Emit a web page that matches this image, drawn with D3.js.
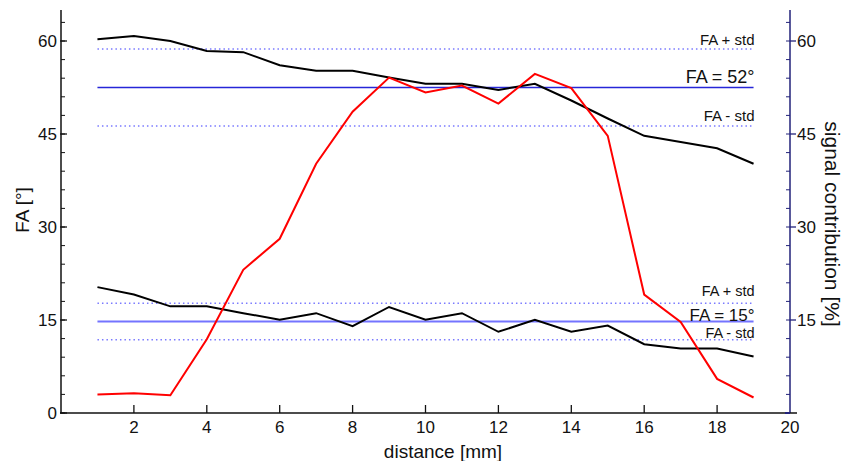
<!DOCTYPE html>
<html><head><meta charset="utf-8">
<script src="https://cdn.jsdelivr.net/npm/d3@7"></script>
<style>body{margin:0;background:#fff}svg{display:block;font-family:"Liberation Sans",Arial,sans-serif}</style>
</head><body><svg id="c" width="844" height="461"></svg>
<script>
const distance = [1,2,3,4,5,6,7,8,9,10,11,12,13,14,15,16,17,18,19];
const faHigh = [60.3,60.8,60.0,58.4,58.2,56.1,55.2,55.2,54.1,53.1,53.1,52.1,53.1,50.4,47.5,44.7,43.7,42.7,40.2];
const faLow = [20.3,19.1,17.2,17.2,16.1,15.05,16.1,14.0,17.1,15.05,16.1,13.1,15.05,13.1,14.1,11.1,10.4,10.4,9.1];
const signal = [3.0,3.2,2.85,11.9,23.1,28.1,40.2,48.6,54.1,51.7,52.8,49.9,54.7,52.4,44.7,19.1,14.7,5.5,2.5];
const faHighMean = 52.5, faHighStd = 6.2;
const faLowMean = 14.75, faLowStd = 2.95;
const faHighLabel = "FA = 52°", faLowLabel = "FA = 15°";
const xTicks = [2,4,6,8,10,12,14,16,18,20];
const yTicks = [0,15,30,45,60];
const yRightTicks = [15,30,45,60];

const svg = d3.select("#c");
const x = d3.scaleLinear().domain([0,20]).range([61,790]);
const y = d3.scaleLinear().domain([0,65]).range([413,10]);
const yR = d3.scaleLinear().domain([0,65]).range([413,10]);
const minor = d3.range(0,66,3);

// reference lines
function refBlock(mean, std, solidColor, solidWidth){
  const x0 = x(1), x1 = x(19);
  [mean+std, mean-std].forEach(v=>{
    svg.append("line").attr("x1",x0).attr("x2",x1).attr("y1",y(v)).attr("y2",y(v))
      .attr("stroke","#7a7aff").attr("stroke-width",1.5).attr("stroke-dasharray","1.5,3");
  });
  svg.append("line").attr("x1",x0).attr("x2",x1).attr("y1",y(mean)).attr("y2",y(mean))
    .attr("stroke",solidColor).attr("stroke-width",solidWidth);
}
refBlock(faHighMean, faHighStd, "#2626d8", 1.3);
refBlock(faLowMean, faLowStd, "#7474ff", 2);

// lines
const line = d3.line().x((d,i)=>x(distance[i])).y(d=>y(d));
const lineR = d3.line().x((d,i)=>x(distance[i])).y(d=>yR(d));
svg.append("path").attr("d",line(faHigh)).attr("fill","none").attr("stroke","#000").attr("stroke-width",2);
svg.append("path").attr("d",line(faLow)).attr("fill","none").attr("stroke","#000").attr("stroke-width",2);
svg.append("path").attr("d",lineR(signal)).attr("fill","none").attr("stroke","#ff0000").attr("stroke-width",2);

// annotations
const tx = x(19)+1;
function ann(txt, yy, size){ svg.append("text").attr("x",tx).attr("y",yy).attr("text-anchor","end").attr("font-size",size).attr("fill","#111").text(txt); }
ann("FA + std", y(faHighMean+faHighStd)-4, 15);
ann(faHighLabel, y(faHighMean)-5, 18);
ann("FA - std", y(faHighMean-faHighStd)-5, 15);
ann("FA + std", y(faLowMean+faLowStd)-7, 14.5);
ann(faLowLabel, y(faLowMean)-1, 17);
ann("FA - std", y(faLowMean-faLowStd)-2, 14.5);

// left axis
const gL = svg.append("g").attr("transform","translate(61,0)");
gL.append("line").attr("y1",10).attr("y2",413).attr("stroke","#111").attr("stroke-width",1.5);
gL.selectAll(".mn").data(minor).join("line").attr("x1",0).attr("x2",4).attr("y1",d=>y(d)).attr("y2",d=>y(d)).attr("stroke","#111");
gL.selectAll(".mj").data(yTicks).join("line").attr("x1",-1).attr("x2",6).attr("y1",d=>y(d)).attr("y2",d=>y(d)).attr("stroke","#111").attr("stroke-width",1.3);
gL.selectAll(".lb").data(yTicks).join("text").attr("x",-4).attr("y",d=>y(d)+6).attr("text-anchor","end").attr("font-size",17).attr("fill","#111").text(d=>d);

// right axis
const gR = svg.append("g").attr("transform","translate(790,0)");
gR.append("line").attr("y1",10).attr("y2",413).attr("stroke","#22227a").attr("stroke-width",1.5);
gR.selectAll(".mn").data(minor).join("line").attr("x1",-4).attr("x2",0).attr("y1",d=>yR(d)).attr("y2",d=>yR(d)).attr("stroke","#22227a");
gR.selectAll(".mj").data(yRightTicks).join("line").attr("x1",0).attr("x2",6).attr("y1",d=>yR(d)).attr("y2",d=>yR(d)).attr("stroke","#22227a").attr("stroke-width",1.3);
gR.selectAll(".lb").data(yRightTicks).join("text").attr("x",7).attr("y",d=>yR(d)+6).attr("font-size",17).attr("fill","#111").text(d=>d);

// bottom axis
const gB = svg.append("g").attr("transform","translate(0,413)");
gB.append("line").attr("x1",60).attr("x2",797).attr("stroke","#111").attr("stroke-width",1.5);
gB.append("line").attr("x1",785).attr("x2",790).attr("stroke","#22227a").attr("stroke-width",2);
gB.selectAll(".tk").data(xTicks.filter(d=>d<20)).join("line").attr("x1",d=>x(d)).attr("x2",d=>x(d)).attr("y1",0).attr("y2",-8).attr("stroke","#111").attr("stroke-width",1.3);
gB.selectAll(".lb").data(xTicks).join("text").attr("x",d=>x(d)).attr("y",20).attr("text-anchor","middle").attr("font-size",17).attr("fill","#111").text(d=>d);

// titles
svg.append("text").attr("x",443).attr("y",458).attr("text-anchor","middle").attr("font-size",19).attr("fill","#111").text("distance [mm]");
svg.append("text").attr("transform","translate(29,210) rotate(-90)").attr("text-anchor","middle").attr("font-size",19).attr("fill","#111").text("FA [°]");
svg.append("text").attr("transform","translate(825,224) rotate(90)").attr("text-anchor","middle").attr("font-size",21).attr("fill","#111").text("signal contribution [%]");
</script></body></html>
